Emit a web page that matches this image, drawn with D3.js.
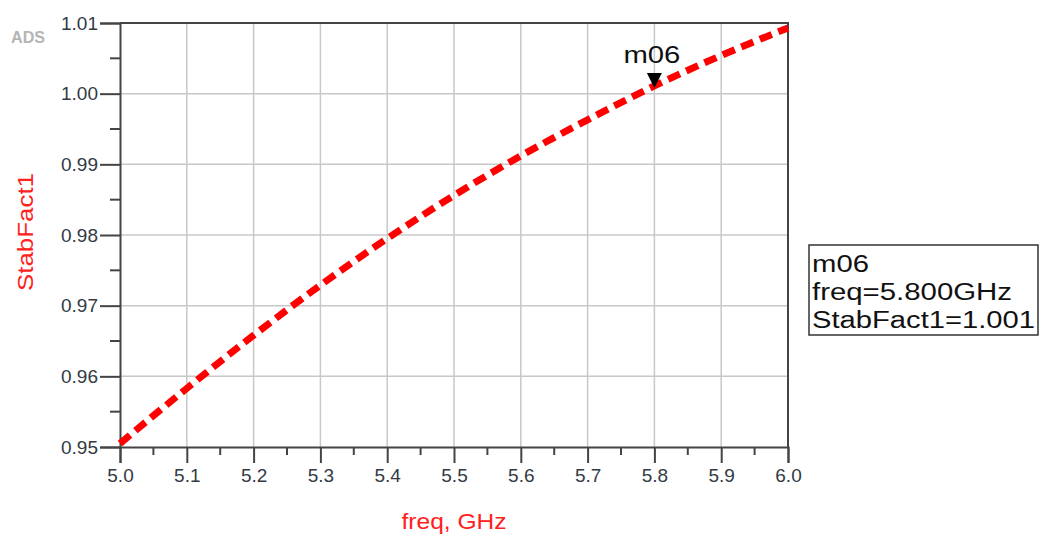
<!DOCTYPE html>
<html>
<head>
<meta charset="utf-8">
<script src="https://cdn.jsdelivr.net/npm/d3@7"></script>
<style>
  html, body { margin: 0; padding: 0; background: #fff; }
  svg { display: block; font-family: "Liberation Sans", Arial, sans-serif; }
</style>
</head>
<body>
<svg id="chart" width="1041" height="538"></svg>
<script>
// ---- data ----
const freq = [5.0, 5.1, 5.2, 5.3, 5.4, 5.5, 5.6, 5.7, 5.8, 5.9, 6.0];
const stabFact1 = [0.9505, 0.9583, 0.9658, 0.9729, 0.9795, 0.9856, 0.9912, 0.9963, 1.0011, 1.0054, 1.0093];
const xTicks = [5.0, 5.1, 5.2, 5.3, 5.4, 5.5, 5.6, 5.7, 5.8, 5.9, 6.0];
const yTicks = [0.95, 0.96, 0.97, 0.98, 0.99, 1.00, 1.01];
const markerName = "m06";
const markerFreq = 5.8;
const legendLines = ["m06", "freq=5.800GHz", "StabFact1=1.001"];

// ---- layout ----
const L = 120, R = 788, T = 23, B = 447;
const svg = d3.select("#chart");
const x = d3.scaleLinear().domain([5.0, 6.0]).range([L, R]);
const y = d3.scaleLinear().domain([0.95, 1.01]).range([B, T]);

// grid
const grid = svg.append("g").attr("stroke", "#c8c8c8").attr("stroke-width", 1.5);
grid.selectAll("line.vx").data(xTicks.slice(1, -1)).join("line")
  .attr("x1", d => x(d)).attr("x2", d => x(d)).attr("y1", T).attr("y2", B);
grid.selectAll("line.hy").data(yTicks.slice(1, -1)).join("line")
  .attr("x1", L).attr("x2", R).attr("y1", d => y(d)).attr("y2", d => y(d));

// frame (top & right)
svg.append("path").attr("d", `M${L},${T}H${R}V${B}`)
  .attr("fill", "none").attr("stroke", "#444").attr("stroke-width", 2);

// x axis
const xMinor = d3.range(0, 10).map(i => 5.05 + i * 0.1);
const xAxis = d3.axisBottom(x).tickValues(xTicks).tickFormat(d3.format(".1f")).tickSize(16).tickPadding(6);
const gx = svg.append("g").attr("transform", `translate(0,${B})`).call(xAxis);
gx.select(".domain").attr("stroke", "#444").attr("stroke-width", 2);
gx.selectAll(".tick line").attr("stroke", "#444").attr("stroke-width", 2);
gx.selectAll(".tick text").attr("font-size", 19).attr("fill", "#333a44")
  .attr("font-family", "Liberation Sans, Arial, sans-serif");
gx.selectAll("line.minor").data(xMinor).join("line").attr("class", "minor")
  .attr("x1", d => x(d)).attr("x2", d => x(d)).attr("y1", 0).attr("y2", 8)
  .attr("stroke", "#444").attr("stroke-width", 2);

// y axis
const yMinor = d3.range(0, 6).map(i => 0.955 + i * 0.01);
const yAxis = d3.axisLeft(y).tickValues(yTicks).tickFormat(d3.format(".2f")).tickSize(20).tickPadding(2);
const gy = svg.append("g").attr("transform", `translate(${L},0)`).call(yAxis);
gy.select(".domain").attr("stroke", "#444").attr("stroke-width", 2);
gy.selectAll(".tick line").attr("stroke", "#444").attr("stroke-width", 2);
gy.selectAll(".tick text").attr("font-size", 19).attr("fill", "#333a44")
  .attr("font-family", "Liberation Sans, Arial, sans-serif");
gy.selectAll("line.minor").data(yMinor).join("line").attr("class", "minor")
  .attr("x1", -10).attr("x2", 0).attr("y1", d => y(d)).attr("y2", d => y(d))
  .attr("stroke", "#444").attr("stroke-width", 2);

// series
const pts = freq.map((f, i) => [f, stabFact1[i]]);
svg.append("path").datum(pts)
  .attr("fill", "none").attr("stroke", "#ff0000").attr("stroke-width", 7)
  .attr("stroke-dasharray", "13,7")
  .attr("d", d3.line().x(d => x(d[0])).y(d => y(d[1])).curve(d3.curveMonotoneX));

// marker
const mx = x(markerFreq), my = y(stabFact1[freq.indexOf(markerFreq)]);
svg.append("path").attr("d", `M${mx},${my + 2}L${mx - 7.5},${my - 13}L${mx + 7.5},${my - 13}Z`)
  .attr("fill", "#000");
svg.append("text").attr("x", mx - 31).attr("y", my - 23)
  .attr("font-size", 23).attr("fill", "#111").attr("textLength", 57).attr("lengthAdjust", "spacingAndGlyphs")
  .text(markerName);

// labels
svg.append("text").attr("x", 11).attr("y", 43).attr("font-size", 16).attr("font-weight", "bold")
  .attr("fill", "#b4b4b4").attr("textLength", 34).attr("lengthAdjust", "spacingAndGlyphs").text("ADS");
svg.append("text").attr("transform", `translate(33,232) rotate(-90)`).attr("text-anchor", "middle")
  .attr("font-size", 22).attr("fill", "#ff2020").attr("textLength", 118).attr("lengthAdjust", "spacingAndGlyphs")
  .text("StabFact1");
svg.append("text").attr("x", (L + R) / 2).attr("y", 529).attr("text-anchor", "middle")
  .attr("font-size", 22).attr("fill", "#ff2020").attr("textLength", 105).attr("lengthAdjust", "spacingAndGlyphs")
  .text("freq, GHz");

// legend box
svg.append("rect").attr("x", 809).attr("y", 245).attr("width", 229).attr("height", 90)
  .attr("fill", "#fff").attr("stroke", "#333").attr("stroke-width", 1.5);
const lens = [57, 200, 223];
svg.selectAll("text.leg").data(legendLines).join("text").attr("class", "leg")
  .attr("x", 812).attr("y", (d, i) => 272 + i * 28)
  .attr("font-size", 23).attr("fill", "#111")
  .attr("textLength", (d, i) => lens[i]).attr("lengthAdjust", "spacingAndGlyphs")
  .text(d => d);
</script>
</body>
</html>
